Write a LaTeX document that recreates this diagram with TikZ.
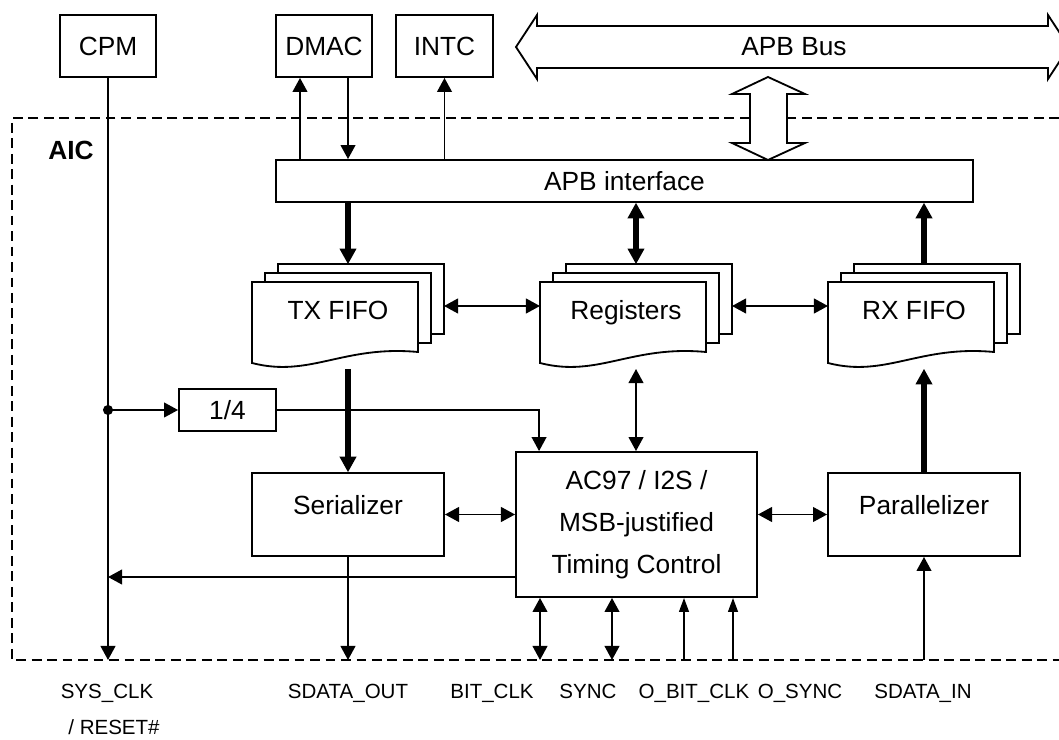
\documentclass[tikz,border=0pt]{standalone}
\usepackage{fontspec}
\setmainfont{Liberation Sans}
\usetikzlibrary{arrows.meta, calc}

\begin{document}
\begin{tikzpicture}[x=0.025cm, y=-0.025cm, line width=1.3pt,
    every node/.style={font=\fontsize{18.7}{22}\selectfont},
    blk/.style={draw, inner sep=0pt},
    page/.style={draw, fill=white},
    arr/.style={-{Triangle[length=10pt,width=10.5pt]}},
    darr/.style={{Triangle[length=10pt,width=10.5pt]}-{Triangle[length=10pt,width=10.5pt]}},
    slim/.style={-{Triangle[length=10pt,width=7pt]}},
    fat/.style={line width=4pt, -{Triangle[length=11pt,width=12pt,line width=1pt]}},
    dfat/.style={line width=4pt, {Triangle[length=11pt,width=12pt,line width=1pt]}-{Triangle[length=11pt,width=12pt,line width=1pt]}},
    bus/.style={draw, fill=white},
    aicline/.style={dash pattern=on 7pt off 4pt},
    pinlabel/.style={anchor=base, font=\fontsize{14.6}{17}\selectfont},
    upper/.style={text height=11pt, text depth=11pt}]
  \useasboundingbox (0,0) rectangle (1059,740);

  % AIC boundary
  \draw[aicline] (1059,118) -- (12,118) -- (12,660) -- (1059,660);
  \node[font=\fontsize{18.7}{22}\selectfont\bfseries] (aic) at (71,150) {AIC};

  % Outside blocks
  \node[blk, minimum width=2.4cm, minimum height=1.55cm] (cpm) at (108,46) {CPM};
  \node[blk, minimum width=2.4cm, minimum height=1.55cm] (dmac) at (324,46) {DMAC};
  \node[blk, minimum width=2.425cm, minimum height=1.55cm] (intc) at (444.5,46) {INTC};

  % APB bus
  \begin{scope}
    \clip (0,0) rectangle (1059,740);
    \draw[bus] (516,47) -- (537,15) -- (537,26) -- (1048,26) -- (1048,15) -- (1069,47)
      -- (1048,79) -- (1048,68) -- (537,68) -- (537,79) -- cycle;
  \end{scope}
  \node (apbbus) at (794,47) {APB Bus};

  % APB interface
  \node[blk, minimum width=17.425cm, minimum height=1.05cm] (apbif) at (624.5,181) {APB interface};
  \draw[bus] (768,77) -- (805,94) -- (787,94) -- (787,143) -- (805,143) -- (768,160)
    -- (732,143) -- (750,143) -- (750,94) -- (732,94) -- cycle;

  % DMAC / INTC links
  \coordinate (d1) at ([xshift=-0.6cm]dmac.south);
  \coordinate (d2) at ([xshift=0.6cm]dmac.south);
  \draw[arr] (d1 |- apbif.north) -- (d1);
  \draw[arr] (d2) -- (d2 |- apbif.north);
  \draw[arr] (intc.south |- apbif.north) -- (intc.south);

  % Stacked pages
  \foreach \nm/\xl/\txt in {txfifo/252/TX FIFO, regs/540/Registers, rxfifo/828/RX FIFO} {
    \draw[page] (\xl+26,264) rectangle (\xl+192,334);
    \draw[page] (\xl+13,273) rectangle (\xl+179,343);
    \draw[page] (\xl,282) -- (\xl+166,282) -- (\xl+166,352)
      .. controls (\xl+91,345) and (\xl+58,378) .. (\xl,363) -- cycle;
    \node[anchor=base] (\nm) at (\xl+86,320) {\txt};
    \coordinate (\nm-t) at (\xl+96,264);
    \coordinate (\nm-b) at (\xl+96,369);
    \coordinate (\nm-l) at (\xl,306);
    \coordinate (\nm-r) at (\xl+192,306);
  }
  \draw[fat] (txfifo-t |- apbif.south) -- (txfifo-t);
  \draw[dfat] (regs-t |- apbif.south) -- (regs-t);
  \draw[fat] (rxfifo-t) -- (rxfifo-t |- apbif.south);
  \draw[darr] (txfifo-r) -- (regs-l);
  \draw[darr] (regs-r) -- (rxfifo-l);

  % Lower blocks
  \node[blk, minimum width=2.425cm, minimum height=1.05cm] (quarter) at (227.5,410) {1/4};
  \node[blk, upper, minimum width=4.8cm, minimum height=2.075cm] (ser) at (348,514.5) {Serializer};
  \node[blk, minimum width=6.025cm, minimum height=3.625cm, align=center,
    font=\fontsize{18.7}{29.9}\selectfont] (timing) at (636.5,524.5) {AC97 / I2S /\\MSB-justified\\Timing Control};
  \node[blk, upper, minimum width=4.8cm, minimum height=2.075cm] (par) at (924,514.5) {Parallelizer};

  % Clock path
  \coordinate (tap) at (cpm.south |- quarter.west);
  \fill (tap) circle (3.6pt);
  \draw[arr] (tap) -- (quarter.west);
  \coordinate (t1) at ([xshift=0.6cm]timing.north west);
  \draw[arr] (quarter.east) -| (t1);
  \coordinate (t2) at ([yshift=-1.3125cm]timing.west);
  \draw[arr] (t2) -- (t2 -| cpm.south);

  % Data path
  \draw[fat] (txfifo-b) -- (txfifo-b |- ser.north);
  \draw[darr] (regs-b) -- (regs-b |- timing.north);
  \draw[fat] (rxfifo-b |- par.north) -- (rxfifo-b);
  \draw[darr] (ser.east) -- (ser.east -| timing.west);
  \draw[darr] (ser.east -| timing.east) -- (par.west);

  % Pins
  \coordinate (pin-sys) at (108,660);
  \coordinate (pin-sdo) at (348,660);
  \coordinate (pin-bit) at (540,660);
  \coordinate (pin-sync) at (612,660);
  \coordinate (pin-obit) at (684,660);
  \coordinate (pin-osync) at (733,660);
  \coordinate (pin-sdi) at (924,660);
  \draw[arr] (cpm.south) -- (pin-sys);
  \draw[arr] (ser.south) -- (pin-sdo);
  \draw[darr] (timing.south -| pin-bit) -- (pin-bit);
  \draw[darr] (timing.south -| pin-sync) -- (pin-sync);
  \draw[slim] (pin-obit) -- (timing.south -| pin-obit);
  \draw[slim] (pin-osync) -- (timing.south -| pin-osync);
  \draw[arr] (pin-sdi) -- (par.south);

  % Pin names
  \node[pinlabel] (l-sys) at (107,698) {SYS\_CLK};
  \node[pinlabel] (l-rst) at (114,734) {/ RESET\#};
  \node[pinlabel] (l-sdo) at (348,698) {SDATA\_OUT};
  \node[pinlabel] (l-bit) at (492,698) {BIT\_CLK};
  \node[pinlabel] (l-sync) at (588,698) {SYNC};
  \node[pinlabel] (l-obit) at (694,698) {O\_BIT\_CLK};
  \node[pinlabel] (l-osync) at (800,698) {O\_SYNC};
  \node[pinlabel] (l-sdi) at (923,698) {SDATA\_IN};
\end{tikzpicture}
\end{document}
